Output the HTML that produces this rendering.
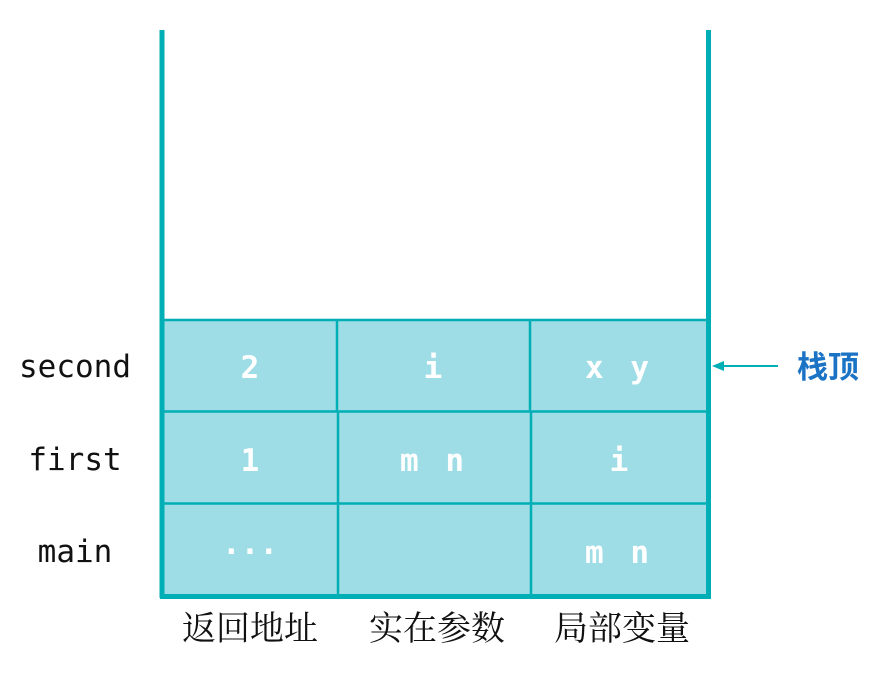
<!DOCTYPE html>
<html><head><meta charset="utf-8"><style>
html,body{margin:0;padding:0;background:#fff;width:880px;height:676px;overflow:hidden}
svg{display:block}
.lbl{font-family:"DejaVu Sans Mono","Liberation Mono",monospace;font-size:31px;fill:#111}
.cell{font-family:"DejaVu Sans Mono","Liberation Mono",monospace;font-size:31px;font-weight:bold;fill:#fff}
.cn{font-family:"Noto Serif CJK SC","Noto Sans CJK SC",serif;font-size:34px;fill:#111}
</style></head><body>
<svg width="880" height="676" viewBox="0 0 880 676">
  <g>
    <rect x="162" y="320" width="546" height="276" fill="#9EDDE5"/>
    <g stroke="#00AEB5" stroke-width="2.5" fill="none">
      <line x1="162" y1="320" x2="708" y2="320"/>
      <line x1="162" y1="411.5" x2="708" y2="411.5"/>
      <line x1="162" y1="503.5" x2="708" y2="503.5"/>
      <line x1="337" y1="320" x2="337" y2="411"/>
      <line x1="530" y1="320" x2="530" y2="411"/>
      <line x1="338" y1="411" x2="338" y2="503"/>
      <line x1="531" y1="411" x2="531" y2="503"/>
      <line x1="338" y1="503" x2="338" y2="596"/>
      <line x1="531" y1="503" x2="531" y2="596"/>
    </g>
    <g stroke="#00AEB5" stroke-width="5" fill="none">
      <line x1="162" y1="30" x2="162" y2="598"/>
      <line x1="708.5" y1="30" x2="708.5" y2="598"/>
      <line x1="160" y1="596.5" x2="711" y2="596.5"/>
    </g>
  </g>
  <g>
    <text class="lbl" x="75" y="377" text-anchor="middle">second</text>
    <text class="lbl" x="75" y="470" text-anchor="middle">first</text>
    <text class="lbl" x="75" y="562" text-anchor="middle">main</text>
  </g>
  <g>
    <text class="cell" x="250" y="378" text-anchor="middle">2</text>
    <text class="cell" x="433" y="378" text-anchor="middle">i</text>
    <text class="cell" x="619" y="378" text-anchor="middle" letter-spacing="4">x y</text>
    <text class="cell" x="250" y="471" text-anchor="middle">1</text>
    <text class="cell" x="434" y="471" text-anchor="middle" letter-spacing="4">m n</text>
    <text class="cell" x="619" y="471" text-anchor="middle">i</text>
    <text class="cell" x="250" y="562" text-anchor="middle" font-size="38">···</text>
    <text class="cell" x="619" y="563" text-anchor="middle" letter-spacing="4">m n</text>
  </g>
  <g>
    <line x1="722" y1="366" x2="778" y2="366" stroke="#00AEB5" stroke-width="2"/>
    <polygon points="712,366 724,361 724,371" fill="#00AEB5"/>
    <text x="828" y="378" text-anchor="middle" font-family="'Noto Sans CJK SC',sans-serif" font-size="31" font-weight="bold" fill="#1A73C4">栈顶</text>
  </g>
  <g>
    <text class="cn" x="250" y="640" text-anchor="middle">返回地址</text>
    <text class="cn" x="437" y="640" text-anchor="middle">实在参数</text>
    <text class="cn" x="622" y="640" text-anchor="middle">局部变量</text>
  </g>
</svg>
</body></html>
